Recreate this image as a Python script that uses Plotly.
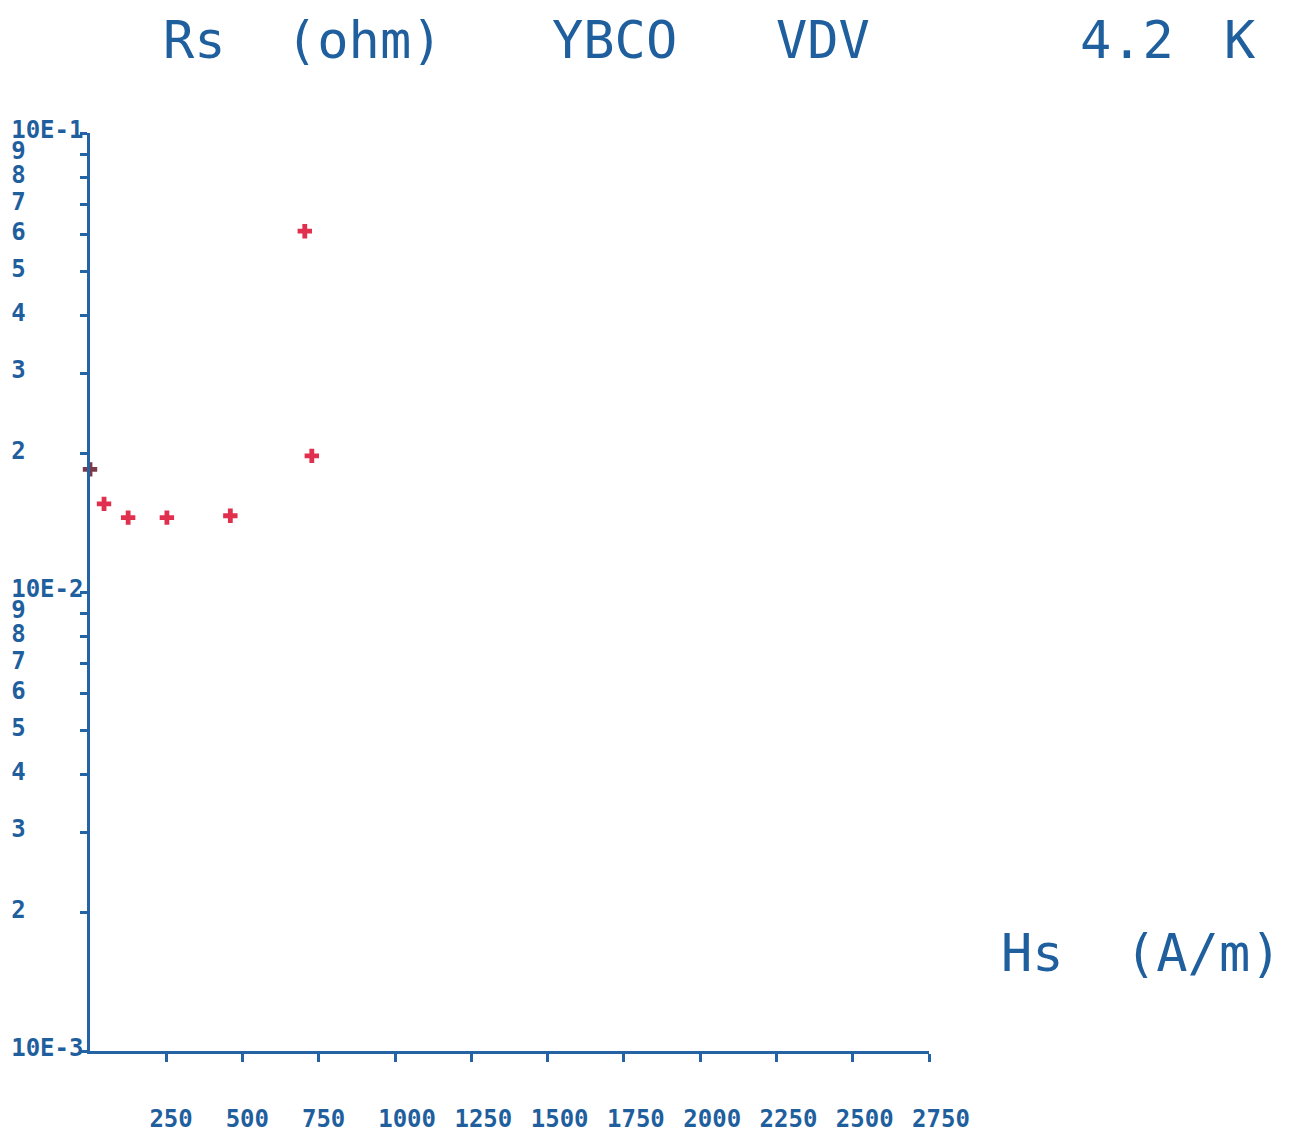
import plotly.graph_objects as go

# ---- data ----
hs = [0, 46, 125, 252, 460, 704, 727]
rs = [0.0185, 0.01556, 0.01452, 0.01452, 0.01466, 0.0611, 0.0198]

x_tickvals = [250, 500, 750, 1000, 1250, 1500, 1750, 2000, 2250, 2500, 2750]
x_ticktext = ["250", "500", "750", "1000", "1250", "1500", "1750", "2000", "2250", "2500", "2750"]

y_tickvals = [0.1, 0.09, 0.08, 0.07, 0.06, 0.05, 0.04, 0.03, 0.02,
              0.01, 0.009, 0.008, 0.007, 0.006, 0.005, 0.004, 0.003, 0.002, 0.001]
y_ticktext = ["10E-1", "9", "8", "7", "6", "5", "4", "3", "2",
              "10E-2", "9", "8", "7", "6", "5", "4", "3", "2", "10E-3"]

title_words = ["Rs", "(ohm)", "YBCO", "VDV", "4.2", "K"]
xtitle_words = ["Hs", "(A/m)"]

# ---- style ----
BLUE = "#2464a4"
TBLUE = "#1f5f9e"
RED = "#e0304e"
NB = "\u00a0"

W, H = 1294, 1135
L, R, T, B = 90, 365, 133, 84
PW, PH = W - L - R, H - T - B


def px2paper(px, py):
    return (px - L) / PW, (H - B - py) / PH


# pad labels so they appear left-aligned in a monospace font
ylab = [t + NB * (5 - len(t)) for t in y_ticktext]
xlab = [t + NB * (4 - len(t)) for t in x_ticktext]

colors = [RED] * len(hs)
colors[0] = "#7c3a48"

fig = go.Figure()
fig.add_trace(go.Scatter(
    x=hs, y=rs, mode="markers",
    marker=dict(symbol="cross", size=12, color=colors, line=dict(width=0)),
    cliponaxis=False, showlegend=False,
))

tickfont = dict(family="DejaVu Sans Mono", size=24, color=TBLUE, weight="bold")

fig.update_layout(
    template="none",
    width=W, height=H,
    margin=dict(l=L, r=R, t=T, b=B, autoexpand=False),
    paper_bgcolor="white", plot_bgcolor="white",
    showlegend=False,
    xaxis=dict(
        range=[0, 2750], showgrid=False, zeroline=False,
        showline=True, linecolor=BLUE, linewidth=2.5,
        ticks="outside", ticklen=8, tickwidth=2.5, tickcolor=BLUE,
        tickvals=x_tickvals, ticktext=xlab, tickfont=tickfont,
        ticklabelstandoff=36, ticklabelshift=12, automargin=False,
    ),
    yaxis=dict(
        type="log", range=[-3, -1], showgrid=False, zeroline=False,
        showline=True, linecolor=BLUE, linewidth=2.5,
        ticks="outside", ticklen=7, tickwidth=2.5, tickcolor=BLUE,
        tickvals=y_tickvals, ticktext=ylab, tickfont=tickfont,
        ticklabelshift=-3, ticklabelstandoff=-8, automargin=False,
    ),
)

title_centers = [(194, 40), (364, 40), (614, 40), (823, 40), (1127, 40), (1240, 40)]
for word, (cx, cy) in zip(title_words, title_centers):
    ax, ay = px2paper(cx, cy)
    fig.add_annotation(text=word, x=ax, y=ay, xref="paper", yref="paper",
                       xanchor="center", yanchor="middle", showarrow=False,
                       font=dict(family="DejaVu Sans Mono", size=52, color=TBLUE))

xt_centers = [(1032, 953), (1203, 953)]
for word, (cx, cy) in zip(xtitle_words, xt_centers):
    ax, ay = px2paper(cx, cy)
    fig.add_annotation(text=word, x=ax, y=ay, xref="paper", yref="paper",
                       xanchor="center", yanchor="middle", showarrow=False,
                       font=dict(family="DejaVu Sans Mono", size=52, color=TBLUE))

fig.write_html("out.html", config={"displayModeBar": False},
               post_script="document.body.style.margin='0';document.body.style.overflow='hidden';")
